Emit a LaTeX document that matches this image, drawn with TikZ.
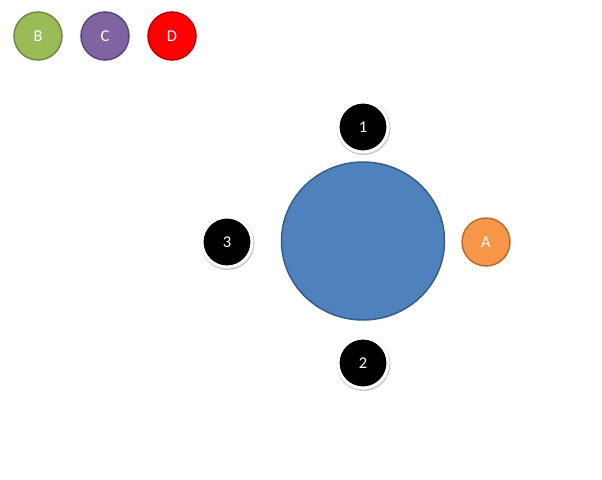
\documentclass[tikz,border=0pt]{standalone}
\usepackage{fontspec}
\setmainfont{Carlito}
\usetikzlibrary{shadows,shapes.geometric}
\definecolor{bfill}{HTML}{9BBB59}
\definecolor{bline}{HTML}{71893F}
\definecolor{cfill}{HTML}{8064A2}
\definecolor{cline}{HTML}{5C4776}
\definecolor{dline}{HTML}{C00000}
\definecolor{afill}{HTML}{F79646}
\definecolor{aline}{HTML}{B66D31}
\definecolor{hubfill}{HTML}{4F81BD}
\definecolor{hubline}{HTML}{385D8A}

\begin{document}
\begin{tikzpicture}[x=1pt, y=-1pt,
  font=\fontsize{16.5}{18}\selectfont,
  dot/.style={circle, minimum size=48pt, inner sep=0pt,
              line width=1.5pt, text=white},
  slot/.style={circle, fill=black, draw=white, line width=3pt,
               minimum size=50pt, inner sep=0pt, text=white,
               drop shadow={opacity=0.3, fill=black!70, shadow scale=1.08,
                            shadow xshift=0.5pt, shadow yshift=-1pt}}]
\useasboundingbox (0,0) rectangle (602,479);
\node[dot, fill=bfill, draw=bline] (b) at (38,36) {B};
\node[dot, fill=cfill, draw=cline] (c) at (105,36) {C};
\node[dot, fill=red, draw=dline] (d) at (172,36) {D};
\node[ellipse, minimum width=163pt, minimum height=158pt,
  fill=hubfill, draw=hubline, line width=1.5pt] (hub) at (363,241) {};
\node[dot, fill=afill, draw=aline] (a) at (486,242) {A};
\node[slot] (s1) at (363,127) {1};
\node[slot] (s2) at (363,363) {2};
\node[slot] (s3) at (227,242) {3};
\end{tikzpicture}
\end{document}
